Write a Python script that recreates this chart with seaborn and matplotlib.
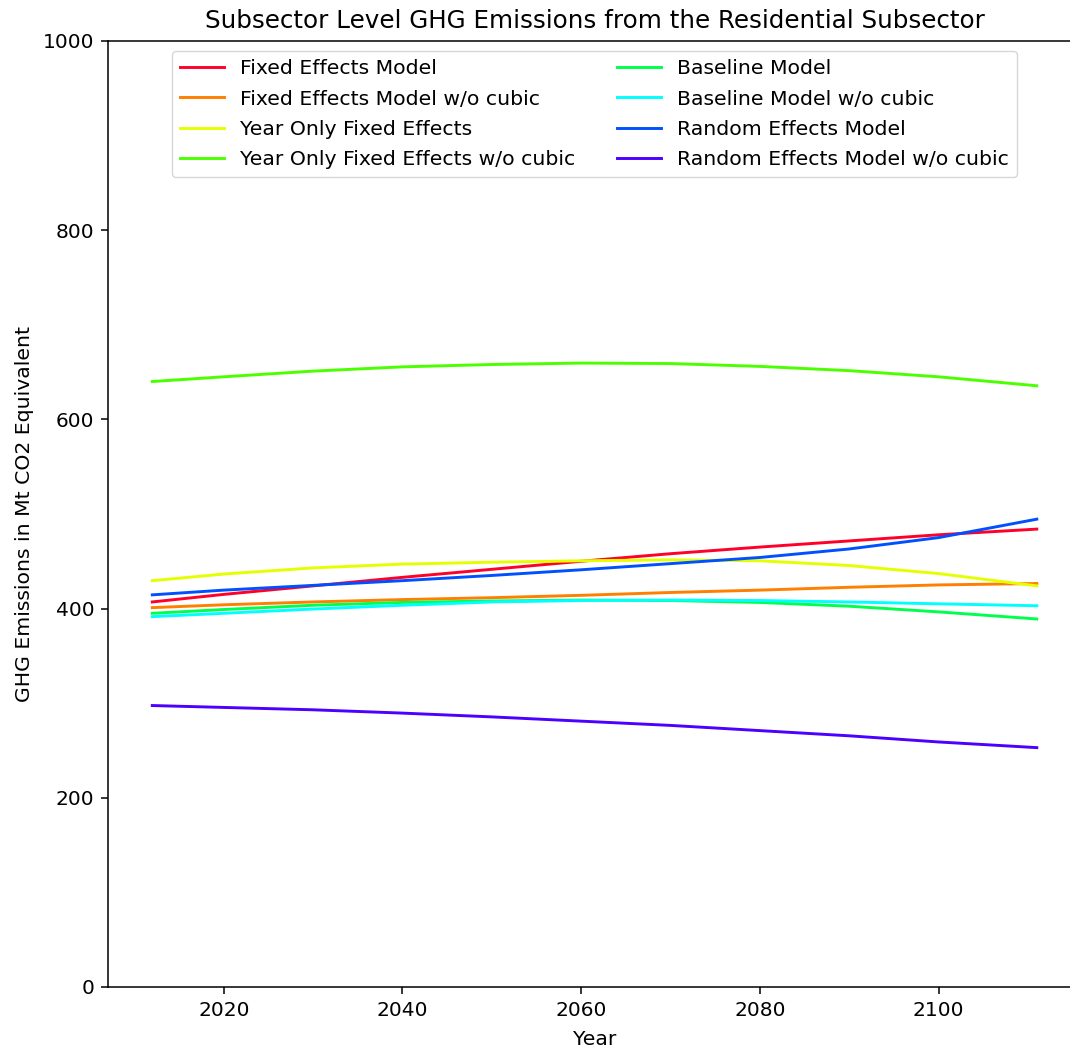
import seaborn as sns
import matplotlib.pyplot as plt
import pandas as pd

years = [2012, 2020, 2030, 2040, 2050, 2060, 2070, 2080, 2090, 2100, 2111]

fixed_effects = [407, 415, 424, 433, 441.5, 450, 458, 465, 471.5, 478, 484]
fixed_effects_no_cubic = [401, 404, 407, 409.5, 411.5, 414, 417, 419.5, 422.5, 425, 426.5]
year_only_fe = [429.5, 436.5, 443, 447, 449, 450.5, 451.5, 450.5, 445.5, 437, 424]
year_only_fe_no_cubic = [640, 645, 651, 655.5, 658, 659.5, 659, 656, 651.5, 645, 635.5]
baseline = [395, 399, 403.5, 406.5, 408, 409, 408.5, 406.5, 402.5, 396.5, 389]
baseline_no_cubic = [391.5, 395, 399.5, 403.5, 407, 408.5, 409, 408.5, 407, 405, 403]
random_effects = [414.5, 419.5, 424.5, 429.5, 435, 441, 447.5, 454, 463, 475, 494.5]
random_effects_no_cubic = [297.5, 295.5, 293, 289.5, 285.5, 281, 276.5, 271, 265.5, 259, 253]

model_names = [
    "Fixed Effects Model",
    "Fixed Effects Model w/o cubic",
    "Year Only Fixed Effects",
    "Year Only Fixed Effects w/o cubic",
    "Baseline Model",
    "Baseline Model w/o cubic",
    "Random Effects Model",
    "Random Effects Model w/o cubic",
]
series = [fixed_effects, fixed_effects_no_cubic, year_only_fe, year_only_fe_no_cubic,
          baseline, baseline_no_cubic, random_effects, random_effects_no_cubic]

rows = []
for name, vals in zip(model_names, series):
    for yr, v in zip(years, vals):
        rows.append({"Year": yr, "Emissions": v, "Model": name})
df = pd.DataFrame(rows)

colors = ["#ff0029", "#ff7f00", "#e5ff00", "#4cff00", "#00ff4d", "#00ffff", "#0050ff", "#4c00ff"]

fig = plt.figure(figsize=(10.7, 10.53), dpi=100)
ax = fig.add_axes([0.101, 0.0627, 0.9093, 0.8984])

sns.lineplot(data=df, x="Year", y="Emissions", hue="Model", hue_order=model_names,
             palette=colors, linewidth=2.1, ax=ax)

ax.set_ylim(0, 1000)
ax.set_yticks([0, 200, 400, 600, 800, 1000])
ax.set_xticks([2020, 2040, 2060, 2080, 2100])
ax.tick_params(labelsize=14.5, length=5, width=1.1, pad=5)
for s in ax.spines.values():
    s.set_linewidth(1.1)
ax.set_xlabel("Year", fontsize=14.7, labelpad=7)
ax.set_ylabel("GHG Emissions in Mt CO2 Equivalent", fontsize=14.7, labelpad=6)
ax.set_title("Subsector Level GHG Emissions from the Residential Subsector",
             fontsize=17.7, pad=9)

ax.legend(loc="upper center", ncol=2, fontsize=14.7, handlelength=2.15,
          columnspacing=2.05, labelspacing=0.55)

fig.savefig("out.png", dpi=100)
plt.close()
